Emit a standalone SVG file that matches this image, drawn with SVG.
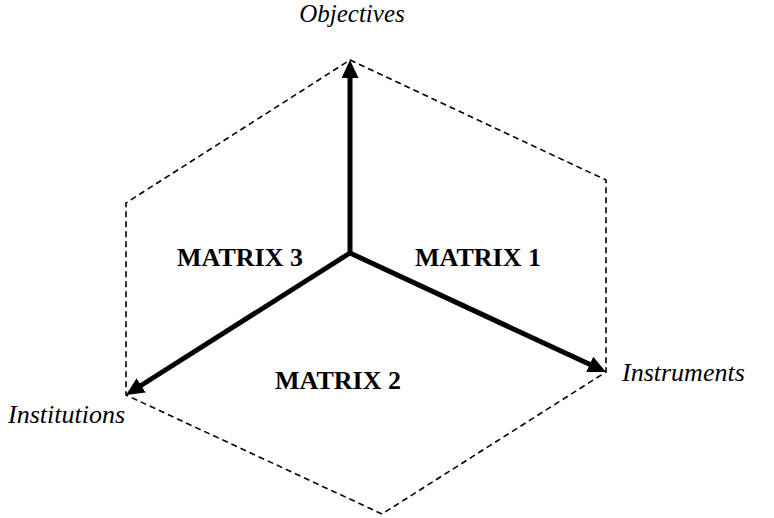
<svg xmlns="http://www.w3.org/2000/svg" width="774" height="518" viewBox="0 0 774 518">
<style>
.hex{fill:none;stroke:#000;stroke-width:1.6;stroke-dasharray:6 4}
.axis{fill:none;stroke:#000;stroke-width:5}
.lbl{font-family:"Liberation Serif","Times New Roman",serif;font-style:italic;font-size:25px;fill:#000}
.side{font-size:26px}
.mx{font-family:"Liberation Serif","Times New Roman",serif;font-weight:bold;font-size:26px;fill:#000;text-anchor:middle}
</style>
<defs>
<marker id="ah" markerUnits="userSpaceOnUse" markerWidth="18" markerHeight="17" refX="4" refY="8.5" orient="auto" viewBox="0 0 18 17">
<path d="M0,0 L18,8.5 L0,17 z" fill="#000"/>
</marker>
</defs>
<g id="frame">
<polygon class="hex" points="350,60 606,180 606,372 382,514 126,395 126,203"/>
</g>
<g id="connectors">
<line class="axis" x1="350" y1="253" x2="350" y2="74" marker-end="url(#ah)"/>
<line class="axis" x1="350" y1="253" x2="593.3" y2="366.1" marker-end="url(#ah)"/>
<line class="axis" x1="350" y1="253" x2="137.8" y2="387.5" marker-end="url(#ah)"/>
</g>
<g id="objectives"><text class="lbl" x="352" y="22" text-anchor="middle">Objectives</text></g>
<g id="instruments"><text class="lbl side" x="622" y="381">Instruments</text></g>
<g id="institutions"><text class="lbl side" x="8" y="423">Institutions</text></g>
<g id="matrix1"><text class="mx" x="478" y="266">MATRIX 1</text></g>
<g id="matrix2"><text class="mx" x="338" y="389">MATRIX 2</text></g>
<g id="matrix3"><text class="mx" x="240" y="266">MATRIX 3</text></g>
</svg>
